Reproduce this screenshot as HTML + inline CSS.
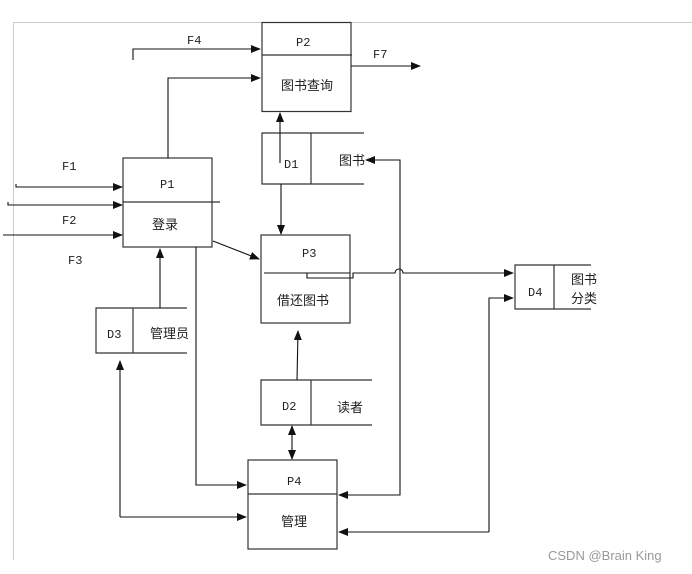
<!DOCTYPE html>
<html><head><meta charset="utf-8"><style>
body{margin:0;background:#fff}
svg{display:block}
text{font-family:"Liberation Mono","Noto Sans CJK SC",monospace;font-size:12px;fill:#222}
.c{font-family:"Liberation Sans","Noto Sans CJK SC",sans-serif;font-size:13px}
</style></head><body>
<svg width="692" height="574" viewBox="0 0 692 574">
<defs><marker id="a" markerWidth="10" markerHeight="8" refX="9" refY="4" orient="auto" markerUnits="userSpaceOnUse"><path d="M0,0 L10,4 L0,8z" fill="#111"/></marker></defs>
<path d="M13.5,560 V22.5 H692" fill="none" stroke="#ccc"/>
<g fill="none" stroke="#333" stroke-width="1.2">
<!-- P2 -->
<rect x="262" y="22.5" width="89" height="89"/><line x1="262" y1="55" x2="352" y2="55"/>
<!-- P1 -->
<rect x="123" y="158" width="89" height="89"/><line x1="123" y1="202" x2="220" y2="202"/>
<!-- P3 -->
<rect x="261" y="235" width="89" height="88"/>
<!-- P4 -->
<rect x="248" y="460" width="89" height="89"/><line x1="248" y1="494" x2="337" y2="494"/>
<!-- D1 -->
<path d="M364,133 H262 V184 H364 M311,133 V184"/>
<!-- D2 -->
<path d="M372,380 H261 V425 H372 M311,380 V425"/>
<!-- D3 -->
<path d="M187,308 H96 V353 H187 M133,308 V353"/>
<!-- D4 -->
<path d="M591,265 H515 V309 H591 M554,265 V309"/>
</g>
<g fill="none" stroke="#111" stroke-width="1.1">
<path d="M133,60 V49 H260" marker-end="url(#a)"/>
<path d="M168,158 V78 H260" marker-end="url(#a)"/>
<path d="M351,66 H420" marker-end="url(#a)"/>
<path d="M280,163 V113" marker-end="url(#a)"/>
<path d="M281,184 V234" marker-end="url(#a)"/>
<path d="M16,184 V187 H122" marker-end="url(#a)"/>
<path d="M8,202 V205 H122" marker-end="url(#a)"/>
<path d="M3,235 H122" marker-end="url(#a)"/>
<path d="M213,241 L259,259" marker-end="url(#a)"/>
<path d="M264,273 H307 V278 H353 V273 H395 A4,4 0 0 1 403,273 H513" marker-end="url(#a)"/>
<path d="M307,273 H350"/>
<path d="M400,273 V495 H339" marker-end="url(#a)"/>
<path d="M400,273 V160 H366" marker-end="url(#a)"/>
<path d="M489,532 V298 H513" marker-end="url(#a)"/>
<path d="M489,532 H339" marker-end="url(#a)"/>
<path d="M160,308 V249" marker-end="url(#a)"/>
<path d="M120,517 V361" marker-end="url(#a)"/>
<path d="M120,517 H246" marker-end="url(#a)"/>
<path d="M196,247 V485 H246" marker-end="url(#a)"/>
<path d="M297,380 L298,331" marker-end="url(#a)"/>
<path d="M292,438 V426" marker-end="url(#a)"/>
<path d="M292,438 V459" marker-end="url(#a)"/>
</g>
<text x="187" y="44">F4</text>
<text x="373" y="58">F7</text>
<text x="296" y="46">P2</text>
<text x="281" y="90" class="c">图书查询</text>
<text x="284" y="168">D1</text>
<text x="339" y="165" class="c">图书</text>
<text x="62" y="170">F1</text>
<text x="62" y="224">F2</text>
<text x="68" y="264">F3</text>
<text x="160" y="188">P1</text>
<text x="152" y="229" class="c">登录</text>
<text x="302" y="257">P3</text>
<text x="277" y="305" class="c">借还图书</text>
<text x="528" y="296">D4</text>
<text x="571" y="284" class="c">图书</text>
<text x="571" y="303" class="c">分类</text>
<text x="107" y="338">D3</text>
<text x="150" y="338" class="c">管理员</text>
<text x="282" y="410">D2</text>
<text x="337" y="412" class="c">读者</text>
<text x="287" y="485">P4</text>
<text x="281" y="526" class="c">管理</text>
<text x="548" y="560" style="font-family:'Liberation Sans',sans-serif;font-size:13px;fill:#999">CSDN @Brain King</text>
</svg>
</body></html>
